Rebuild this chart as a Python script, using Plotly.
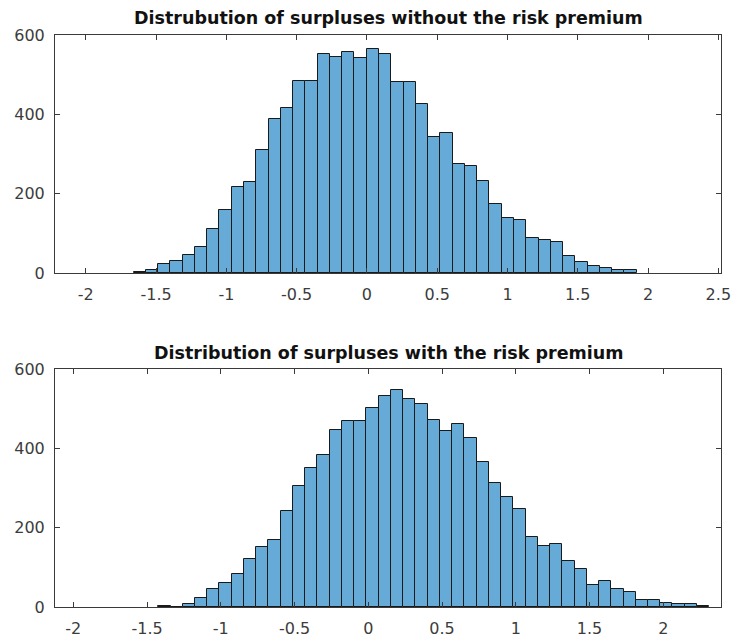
import numpy as np
import plotly.graph_objects as go

# Histogram counts per bin
top_counts = [3, 8, 23, 31, 45, 65, 111, 159, 217, 229, 309, 388, 415, 484, 484,
              552, 545, 556, 541, 564, 553, 481, 481, 427, 343, 354, 274, 269,
              232, 173, 138, 133, 88, 84, 77, 42, 27, 18, 12, 8, 8]
bottom_counts = [3, 0, 8, 23, 45, 61, 84, 122, 152, 168, 243, 305, 351, 384, 446,
                 468, 468, 502, 533, 548, 525, 511, 472, 443, 461, 427, 366, 312,
                 278, 247, 176, 153, 160, 115, 95, 56, 65, 45, 39, 18, 18, 11, 7,
                 7, 3]

# Bin layout (first edge, width)
top_start, top_binw = -1.660, 0.0873
bottom_start, bottom_binw = -1.424, 0.0830

top_title = "Distrubution of surpluses without the risk premium"
bottom_title = "Distribution of surpluses with the risk premium"

y_ticks = [0, 200, 400, 600]
top_xticks = [-2, -1.5, -1, -0.5, 0, 0.5, 1, 1.5, 2, 2.5]
bottom_xticks = [-2, -1.5, -1, -0.5, 0, 0.5, 1, 1.5, 2]


def centers(start, w, n):
    edges = start + w * np.arange(n + 1)
    return (edges[:-1] + edges[1:]) / 2


def labels(vals):
    # plain hyphen-minus labels
    return [f"{v:g}" for v in vals]


W, H = 733, 639
FACE = "rgb(102,170,215)"
EDGE = "#1a1a1a"
AX = "#3a3a3a"
FONT = "DejaVu Sans"

fig = go.Figure()
fig.add_trace(go.Bar(
    x=centers(top_start, top_binw, len(top_counts)), y=top_counts,
    width=top_binw, marker=dict(color=FACE, line=dict(color=EDGE, width=1)),
    xaxis="x", yaxis="y"))
fig.add_trace(go.Bar(
    x=centers(bottom_start, bottom_binw, len(bottom_counts)), y=bottom_counts,
    width=bottom_binw, marker=dict(color=FACE, line=dict(color=EDGE, width=1)),
    xaxis="x2", yaxis="y2"))

common = dict(showline=True, mirror="ticks", linecolor=AX, linewidth=1,
              ticks="inside", ticklen=5, tickwidth=1, tickcolor=AX,
              showgrid=False, zeroline=False, automargin=False,
              tickfont=dict(family=FONT, size=16, color="#3c3c3c"))

xl, xr = 55 / W, 721 / W

fig.update_layout(
    width=W, height=H, margin=dict(l=0, r=0, t=0, b=0, pad=0),
    paper_bgcolor="white", plot_bgcolor="white", showlegend=False,
    bargap=0,
    xaxis=dict(domain=[xl, xr], range=[-2.219, 2.519], tickvals=top_xticks,
               ticktext=labels(top_xticks),
               anchor="y", ticklabelstandoff=7, **common),
    yaxis=dict(domain=[1 - 273 / H, 1 - 35 / H], range=[0, 600], tickvals=y_ticks,
               ticktext=labels(y_ticks),
               anchor="x", ticklabelstandoff=6, **common),
    xaxis2=dict(domain=[xl, xr], range=[-2.124, 2.391], tickvals=bottom_xticks,
                ticktext=labels(bottom_xticks),
                anchor="y2", ticklabelstandoff=7, **common),
    yaxis2=dict(domain=[1 - 607 / H, 1 - 369 / H], range=[0, 600], tickvals=y_ticks,
                ticktext=labels(y_ticks),
                anchor="x2", ticklabelstandoff=6, **common),
    annotations=[
        dict(text=f"<b>{top_title}</b>", x=(xl + xr) / 2, y=1 - 18 / H,
             xref="paper", yref="paper", showarrow=False, xanchor="center",
             yanchor="middle", font=dict(family=FONT, size=17.5, color="#111111")),
        dict(text=f"<b>{bottom_title}</b>", x=(xl + xr) / 2, y=1 - 353 / H,
             xref="paper", yref="paper", showarrow=False, xanchor="center",
             yanchor="middle", font=dict(family=FONT, size=17.5, color="#111111")),
    ],
)

fig.write_html("out.html")
